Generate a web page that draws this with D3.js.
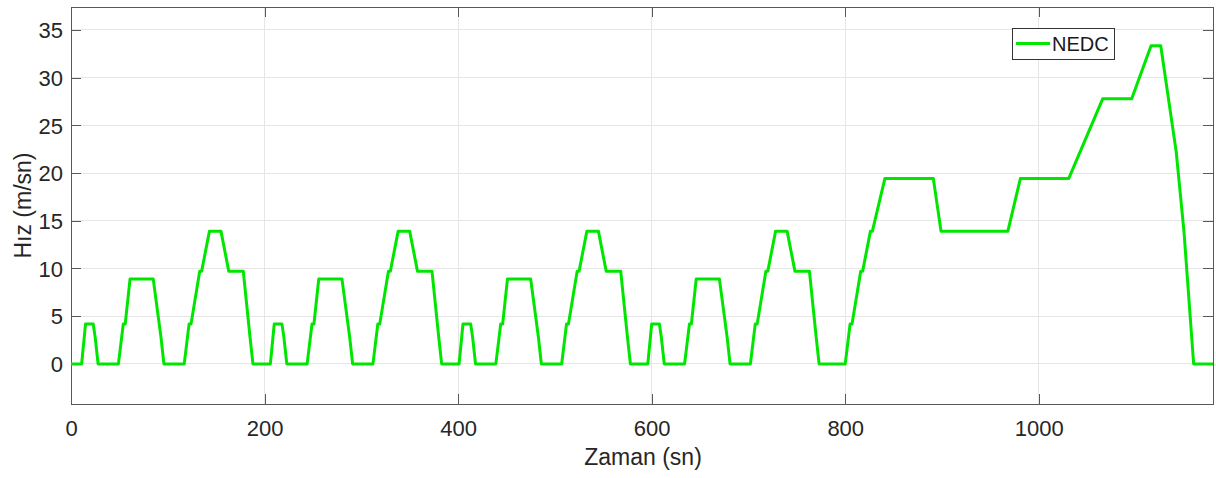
<!DOCTYPE html>
<html>
<head>
<meta charset="utf-8">
<script src="https://cdn.jsdelivr.net/npm/d3@7"></script>
<style>
  html, body { margin: 0; padding: 0; background: #fff; }
  svg { display: block; font-family: "Liberation Sans", Arial, Helvetica, sans-serif; }
</style>
</head>
<body>
<svg id="chart" width="1216" height="478"></svg>
<script>
// NEDC drive cycle: time (s) and speed (m/s) breakpoints
const timeSec = [
  0, 11, 15, 23, 25, 28, 49, 54, 56, 61, 85, 93, 96, 117, 122, 124, 133, 135, 143, 155, 163, 176, 178, 185, 188, 195,
  206, 210, 218, 220, 223, 244, 249, 251, 256, 280, 288, 291, 312, 317, 319, 328, 330, 338, 350, 358, 371, 373, 380, 383, 390,
  401, 405, 413, 415, 418, 439, 444, 446, 451, 475, 483, 486, 507, 512, 514, 523, 525, 533, 545, 553, 566, 568, 575, 578, 585,
  596, 600, 608, 610, 613, 634, 639, 641, 646, 670, 678, 681, 702, 707, 709, 718, 720, 728, 740, 748, 761, 763, 770, 773, 780,
  800, 805, 807, 816, 818, 826, 828, 841, 891, 899, 968, 981, 1031, 1066, 1096, 1116, 1126, 1142, 1150, 1160, 1180
];
const speedMs = [
  0, 0, 4.17, 4.17, 2.78, 0, 0, 4.17, 4.17, 8.89, 8.89, 2.78, 0, 0, 4.17, 4.17, 9.72, 9.72, 13.89, 13.89, 9.72, 9.72, 9.72, 2.78, 0, 0,
  0, 4.17, 4.17, 2.78, 0, 0, 4.17, 4.17, 8.89, 8.89, 2.78, 0, 0, 4.17, 4.17, 9.72, 9.72, 13.89, 13.89, 9.72, 9.72, 9.72, 2.78, 0, 0,
  0, 4.17, 4.17, 2.78, 0, 0, 4.17, 4.17, 8.89, 8.89, 2.78, 0, 0, 4.17, 4.17, 9.72, 9.72, 13.89, 13.89, 9.72, 9.72, 9.72, 2.78, 0, 0,
  0, 4.17, 4.17, 2.78, 0, 0, 4.17, 4.17, 8.89, 8.89, 2.78, 0, 0, 4.17, 4.17, 9.72, 9.72, 13.89, 13.89, 9.72, 9.72, 9.72, 2.78, 0, 0,
  0, 4.17, 4.17, 9.72, 9.72, 13.89, 13.89, 19.44, 19.44, 13.89, 13.89, 19.44, 19.44, 27.78, 27.78, 33.33, 33.33, 22.22, 13.89, 0, 0
];
const xTicks = [0, 200, 400, 600, 800, 1000];
const yTicks = [0, 5, 10, 15, 20, 25, 30, 35];
const seriesName = "NEDC";
const xLabel = "Zaman (sn)";
const yLabel = "Hız (m/sn)";

(function () {
const mL = 71, mR = 1213, mT = 7, mB = 404;

const svg = d3.select("#chart");
const x = d3.scaleLinear().domain([0, 1180]).range([mL, mR]);
const y = d3.scaleLinear().domain([-4.2, 37.4]).range([mB, mT]);

// grid
const grid = svg.append("g").attr("stroke", "#e6e6e6").attr("stroke-width", 1).attr("shape-rendering", "crispEdges");
grid.selectAll(".gx").data(xTicks).enter().append("line")
  .attr("x1", d => x(d)).attr("x2", d => x(d)).attr("y1", mT).attr("y2", mB);
grid.selectAll(".gy").data(yTicks).enter().append("line")
  .attr("x1", mL).attr("x2", mR).attr("y1", d => y(d)).attr("y2", d => y(d));

// axes (inside ticks, box)
const tickLen = 10;
const axisColor = "#595959";
const fmt = d3.format("d");
const axB = svg.append("g").attr("transform", `translate(0,${mB})`)
  .call(d3.axisBottom(x).tickValues(xTicks).tickFormat(fmt).tickSizeInner(-tickLen).tickSizeOuter(0).tickPadding(16));
const axT = svg.append("g").attr("transform", `translate(0,${mT})`)
  .call(d3.axisTop(x).tickValues(xTicks).tickSizeInner(-tickLen).tickSizeOuter(0).tickFormat(""));
const axL = svg.append("g").attr("transform", `translate(${mL},0)`)
  .call(d3.axisLeft(y).tickValues(yTicks).tickFormat(fmt).tickSizeInner(-tickLen).tickSizeOuter(0).tickPadding(8));
const axR = svg.append("g").attr("transform", `translate(${mR},0)`)
  .call(d3.axisRight(y).tickValues(yTicks).tickSizeInner(-tickLen).tickSizeOuter(0).tickFormat(""));
[axB, axT, axL, axR].forEach(a => {
  a.select(".domain").attr("stroke", axisColor).attr("shape-rendering", "crispEdges");
  a.selectAll(".tick line").attr("stroke", axisColor).attr("shape-rendering", "crispEdges");
  a.selectAll("text").attr("fill", "#262626").style("font-size", "22px")
    .style("font-family", '"Liberation Sans", Arial, sans-serif');
});
axB.selectAll("text").attr("dy", "0.71em");
axL.selectAll("text").attr("dy", "0.35em");

// data line
const data = timeSec.map((t, i) => ({ t, v: speedMs[i] }));
const line = d3.line().x(d => x(d.t)).y(d => y(d.v));
svg.append("path").datum(data)
  .attr("d", line)
  .attr("fill", "none")
  .attr("stroke", "#00e600")
  .attr("stroke-width", 3)
  .attr("stroke-linejoin", "round");

// axis labels
svg.append("text").attr("x", 643).attr("y", 465)
  .attr("text-anchor", "middle").attr("fill", "#262626").style("font-size", "23px").text(xLabel);
svg.append("text").attr("transform", `translate(31,${(mT + mB) / 2}) rotate(-90)`)
  .attr("text-anchor", "middle").attr("fill", "#262626").style("font-size", "23px").text(yLabel);

// legend
const lg = svg.append("g");
lg.append("rect").attr("x", 1012).attr("y", 28).attr("width", 102).attr("height", 31)
  .attr("fill", "#fff").attr("stroke", "#333").attr("stroke-width", 1).attr("shape-rendering", "crispEdges");
lg.append("line").attr("x1", 1016).attr("x2", 1050).attr("y1", 43.5).attr("y2", 43.5)
  .attr("stroke", "#00e600").attr("stroke-width", 3);
lg.append("text").attr("x", 1052).attr("y", 51).attr("fill", "#1a1a1a").style("font-size", "20px").text(seriesName);
})();
</script>
</body>
</html>
